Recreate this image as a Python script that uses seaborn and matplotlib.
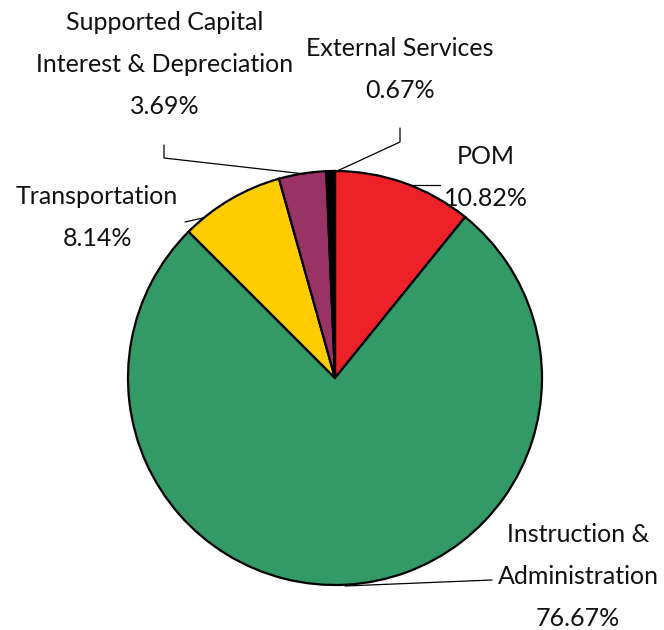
import matplotlib
matplotlib.use("Agg")
import matplotlib.pyplot as plt
import seaborn as sns

# ---------- data ----------
categories = ["POM", "Instruction &\nAdministration", "Transportation",
              "Supported Capital\nInterest & Depreciation", "External Services"]
shares = [10.82, 76.67, 8.14, 3.69, 0.67]
colors = ["#ED2128", "#339966", "#FFCC00", "#993366", "#000000"]

sns.set_theme(style="white")
plt.rcParams["font.family"] = ["Lato", "DejaVu Sans"]

W, H = 664, 630
fig = plt.figure(figsize=(W / 100, H / 100), dpi=100)
ax = fig.add_axes([0, 0, 1, 1])

def py(y):
    # pixel y (from top) -> data y
    return H - y

cx, cy, r = 335, py(378), 207
ax.pie(shares, colors=colors, startangle=90, counterclock=False,
       center=(cx, cy), radius=r, frame=True,
       wedgeprops=dict(edgecolor="black", linewidth=1.6))
ax.set_xlim(0, W)
ax.set_ylim(0, H)
ax.set_aspect("equal")
ax.axis("off")

# ---------- labels ----------
fs = 18
label_pos = [(486, 178), (578, 576), (97, 217), (165, 64), (400, 70)]
for cat, val, (x, y) in zip(categories, shares, label_pos):
    ax.text(x, py(y), f"{cat}\n{val:.2f}%", ha="center", va="center",
            fontsize=fs, linespacing=2.0, color="#111111")

# ---------- leader lines ----------
leaders = [
    [(410, 185), (440, 185)],
    [(345, 586), (492, 580)],
    [(185, 222), (203, 218)],
    [(164, 145), (164, 158), (305, 174)],
    [(400, 128), (400, 142), (335, 172)],
]
for pts in leaders:
    xs = [p[0] for p in pts]
    ys = [py(p[1]) for p in pts]
    ax.plot(xs, ys, color="black", lw=0.9)

fig.savefig("out.png", dpi=100)
